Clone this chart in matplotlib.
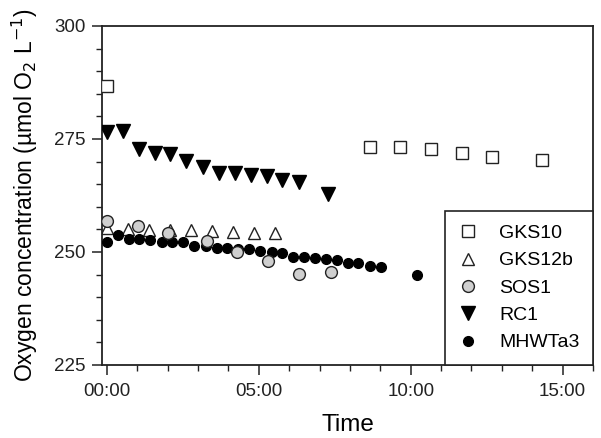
import numpy as np
import matplotlib.pyplot as plt
from matplotlib.ticker import MultipleLocator, FuncFormatter

plt.rcParams['font.family'] = ['Liberation Sans', 'DejaVu Sans']

# time in hours, oxygen in umol O2 / L
gks10_t = [0.0, 8.65, 9.64, 10.66, 11.68, 12.66, 14.31]
gks10_o2 = [286.7, 273.2, 273.3, 272.8, 272.0, 271.0, 270.3]

gks12b_t = [0.0, 0.69, 1.39, 2.07, 2.76, 3.46, 4.15, 4.84, 5.55]
gks12b_o2 = [255.2, 255.0, 254.9, 254.8, 254.8, 254.7, 254.5, 254.3, 254.2]

sos1_t = [0.0, 1.01, 2.02, 3.28, 4.29, 5.31, 6.32, 7.37]
sos1_o2 = [256.8, 255.8, 254.1, 252.5, 250.1, 247.9, 245.1, 245.5]

rc1_t = [0.0, 0.52, 1.05, 1.58, 2.09, 2.62, 3.17, 3.69, 4.22, 4.75, 5.26, 5.77, 6.31, 7.29]
rc1_o2 = [276.5, 276.7, 272.8, 271.9, 271.7, 270.2, 268.7, 267.5, 267.5, 267.0, 266.7, 265.9, 265.4, 262.8]

mhw_t = [0.0, 0.36, 0.72, 1.07, 1.43, 1.8, 2.16, 2.52, 2.88, 3.25, 3.61, 3.97, 4.33,
         4.69, 5.05, 5.42, 5.77, 6.12, 6.48, 6.84, 7.2, 7.57, 7.93, 8.28, 8.65, 9.01, 10.2]
mhw_o2 = [252.1, 253.8, 252.9, 252.9, 252.7, 252.1, 252.3, 252.1, 251.4, 251.4, 250.8, 250.8, 250.7,
          250.7, 250.3, 250.1, 249.7, 249.0, 249.0, 248.6, 248.5, 248.2, 247.6, 247.6, 247.0, 246.6, 244.9]

fig = plt.figure(figsize=(6.01, 4.38), dpi=100)
ax = fig.add_axes([0.1697, 0.1667, 0.817, 0.774])

edge = '#222222'
ax.plot(mhw_t, mhw_o2, 'o', ms=7, mfc='black', mec='black', zorder=3)
ax.plot(gks12b_t, gks12b_o2, '^', ms=8.5, mfc='white', mec=edge, mew=1.0, zorder=2)
ax.plot(sos1_t, sos1_o2, 'o', ms=8.5, mfc='#cfcfcf', mec=edge, mew=1.0, zorder=4)
ax.plot(rc1_t, rc1_o2, 'v', ms=9.5, mfc='black', mec='black', zorder=3)
ax.plot(gks10_t, gks10_o2, 's', ms=8, mfc='white', mec=edge, mew=1.0, zorder=3)

# legend handles in the original order
h = [
    plt.Line2D([], [], ls='none', marker='s', ms=8, mfc='white', mec=edge, mew=1.0),
    plt.Line2D([], [], ls='none', marker='^', ms=8.5, mfc='white', mec=edge, mew=1.0),
    plt.Line2D([], [], ls='none', marker='o', ms=8.5, mfc='#cfcfcf', mec=edge, mew=1.0),
    plt.Line2D([], [], ls='none', marker='v', ms=9.5, mfc='black', mec='black'),
    plt.Line2D([], [], ls='none', marker='o', ms=7, mfc='black', mec='black'),
]
leg = ax.legend(h, ['GKS10', 'GKS12b', 'SOS1', 'RC1', 'MHWTa3'], loc='lower right',
                borderaxespad=0, fancybox=False, edgecolor='#222222', fontsize=14,
                handletextpad=1.1, labelspacing=0.5, borderpad=0.7, framealpha=1,
                handlelength=1.0)
leg.get_frame().set_linewidth(1.2)

ax.set_xlim(-0.16, 16)
ax.set_ylim(225, 300)
ax.yaxis.set_major_locator(MultipleLocator(25))
ax.yaxis.set_minor_locator(MultipleLocator(5))
ax.xaxis.set_major_locator(MultipleLocator(5))
ax.xaxis.set_minor_locator(MultipleLocator(1))
ax.xaxis.set_major_formatter(FuncFormatter(lambda v, p: '%02d:00' % int(round(v))))

for s in ax.spines.values():
    s.set_linewidth(1.3)
    s.set_color('#222222')
ax.tick_params(which='major', direction='out', length=7, width=1.1, labelsize=13.5, colors='#222222')
ax.tick_params(which='minor', direction='out', length=4, width=1.0, colors='#222222')
ax.tick_params(axis='x', pad=6)
ax.tick_params(axis='y', pad=5)

ax.set_xlabel('Time', fontsize=17.5, labelpad=10)
ax.set_ylabel('Oxygen concentration (µmol O$_2$ L$^{-1}$)', fontsize=16.5, labelpad=10)

fig.savefig('out.png', dpi=100)
